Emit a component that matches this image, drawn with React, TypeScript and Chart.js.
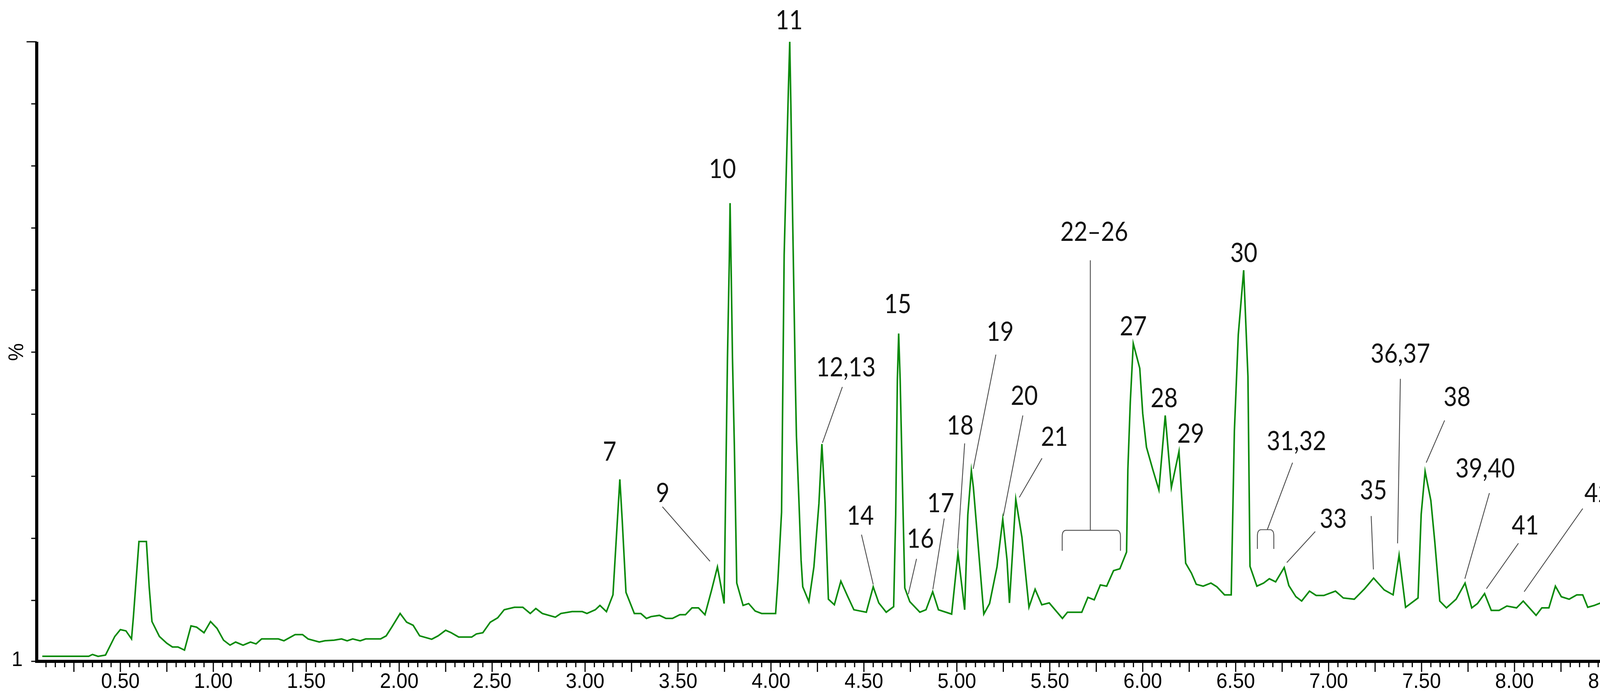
// ChromatogramChart.tsx
import React, { useEffect, useRef } from 'react';
import { Chart, registerables } from 'chart.js';

Chart.register(...registerables);

// retention time (min)
const times: number[] = [
  0.08, 0.33, 0.35, 0.38, 0.42, 0.47, 0.5, 0.53, 0.56, 0.57, 0.6, 0.64, 0.655, 0.67, 0.71, 0.75, 0.78, 0.81, 0.845,
  0.88, 0.91, 0.95, 0.985, 1.02, 1.055, 1.09, 1.12, 1.16, 1.2, 1.23, 1.26, 1.35, 1.38, 1.44, 1.48, 1.51, 1.57, 1.6,
  1.65, 1.69, 1.72, 1.75, 1.79, 1.82, 1.9, 1.93, 1.96, 2.005, 2.04, 2.075, 2.11, 2.175, 2.21, 2.25, 2.28, 2.32, 2.39,
  2.415, 2.45, 2.49, 2.53, 2.565, 2.62, 2.665, 2.705, 2.735, 2.77, 2.84, 2.87, 2.93, 2.985, 3.01, 3.055, 3.08, 3.115,
  3.15, 3.165, 3.187, 3.2, 3.22, 3.265, 3.3, 3.33, 3.355, 3.4, 3.435, 3.47, 3.51, 3.54, 3.575, 3.61, 3.645, 3.68,
  3.712, 3.748, 3.766, 3.776, 3.78, 3.785, 3.793, 3.803, 3.816, 3.85, 3.88, 3.915, 3.95, 3.985, 4.025, 4.037, 4.057,
  4.071, 4.086, 4.094, 4.101, 4.107, 4.115, 4.126, 4.131, 4.137, 4.151, 4.162, 4.171, 4.204, 4.231, 4.258, 4.274,
  4.291, 4.309, 4.341, 4.376, 4.412, 4.446, 4.513, 4.55, 4.58, 4.62, 4.66, 4.671, 4.68, 4.687, 4.695, 4.707, 4.72,
  4.747, 4.801, 4.834, 4.87, 4.901, 4.972, 5.006, 5.042, 5.059, 5.078, 5.089, 5.145, 5.176, 5.216, 5.247, 5.27,
  5.283, 5.317, 5.35, 5.388, 5.421, 5.457, 5.497, 5.568, 5.595, 5.672, 5.705, 5.739, 5.772, 5.806, 5.843, 5.877,
  5.913, 5.92, 5.933, 5.949, 5.984, 6.0, 6.02, 6.054, 6.087, 6.121, 6.154, 6.195, 6.231, 6.262, 6.288, 6.325, 6.367,
  6.399, 6.44, 6.476, 6.493, 6.514, 6.543, 6.566, 6.577, 6.614, 6.65, 6.681, 6.715, 6.761, 6.786, 6.824, 6.855,
  6.897, 6.933, 6.974, 7.037, 7.079, 7.138, 7.194, 7.242, 7.299, 7.347, 7.379, 7.414, 7.481, 7.498, 7.519, 7.55,
  7.571, 7.598, 7.634, 7.686, 7.734, 7.77, 7.801, 7.839, 7.875, 7.917, 7.959, 8.011, 8.047, 8.116, 8.147, 8.185,
  8.22, 8.252, 8.294, 8.335, 8.367, 8.394, 8.43, 8.472, 8.503, 8.541, 8.608, 8.671, 8.708, 8.744, 8.786, 8.838,
  8.89, 8.917, 8.953, 8.995,
];

// relative intensity (%)
const intensity: number[] = [
  1.0, 1.0, 1.3, 1.0, 1.2, 4.2, 5.3, 5.1, 3.8, 7.3, 19.5, 19.5, 12.2, 6.6, 4.2, 3.1, 2.5, 2.5, 2.0,
  5.9, 5.7, 4.8, 6.6, 5.5, 3.6, 2.8, 3.3, 2.8, 3.3, 3.0, 3.8, 3.8, 3.5, 4.5, 4.5, 3.8, 3.3, 3.5,
  3.6, 3.8, 3.5, 3.8, 3.5, 3.8, 3.8, 4.3, 5.7, 7.9, 6.5, 6.0, 4.3, 3.75, 4.3, 5.2, 4.8, 4.1, 4.1,
  4.6, 4.8, 6.5, 7.2, 8.5, 8.9, 8.9, 7.9, 8.7, 7.9, 7.3, 7.9, 8.2, 8.2, 7.9, 8.5, 9.2, 8.2,
  10.9, 18.5, 29.5, 22.8, 11.3, 7.9, 7.9, 7.1, 7.4, 7.6, 7.1, 7.1, 7.7, 7.7, 8.8, 8.8, 7.7, 11.6,
  15.4, 9.5, 49, 65, 74, 65, 49, 35, 12.8, 9.2, 9.5, 8.3, 7.9, 7.9, 7.9, 13.1, 24.2,
  65.7, 83.4, 92.6, 100, 90, 74.5, 54.7, 45.6, 36.5, 25.6, 16.5, 12.2, 9.8, 15.4, 25.6, 35.2,
  25.6, 10.2, 9.3, 13.1, 10.7, 8.5, 8.1, 12.2, 9.6, 8.1, 9.0, 23.8, 45.6, 53.0, 45.6, 29.2, 12.0,
  9.8, 8.1, 8.5, 11.4, 8.5, 7.8, 17.6, 8.5, 23.8, 30.9, 28.2, 7.8, 9.5, 15.4, 23.1, 16.5,
  9.6, 26.3, 20.2, 8.9, 11.8, 9.3, 9.6, 7.1, 8.1, 8.1, 10.5, 10.1, 12.5, 12.3, 14.8, 15.1,
  17.8, 31.1, 41.9, 51.4, 47.4, 40.1, 34.7, 31.1, 27.8, 39.8, 28.2, 34.0, 16.0, 14.4, 12.6, 12.3, 12.8,
  12.2, 10.9, 10.9, 37.3, 52.8, 63.2, 46.1, 15.5, 12.3, 12.8, 13.5, 13.0, 15.3, 12.4, 10.6, 9.9,
  11.5, 10.8, 10.8, 11.5, 10.4, 10.2, 11.9, 13.6, 11.7, 10.9, 17.3, 8.9, 10.4, 23.9, 30.8, 26.1,
  19.5, 9.9, 8.8, 10.2, 12.8, 8.8, 9.5, 11.1, 8.4, 8.4, 9.1, 8.8, 9.9, 7.6, 8.8, 8.8,
  12.3, 10.6, 10.2, 10.9, 10.9, 8.9, 9.2, 9.7, 8.8, 9.5, 7.9, 9.2, 7.6, 8.2, 8.2, 7.9,
  8.8, 8.5, 7.4, 7.4,
];

// x tick labels every 0.5 min
const tickLabels: string[] = ['0.50', '1.00', '1.50', '2.00', '2.50', '3.00', '3.50', '4.00', '4.50', '5.00',
  '5.50', '6.00', '6.50', '7.00', '7.50', '8.00', '8.50', '9.00'];

// compound numbers on the peaks
const peakNames: string[] = ['7', '9', '10', '11', '12,13', '14', '15', '16', '17', '18', '19', '20', '21',
  '22–26', '27', '28', '29', '30', '31,32', '33', '35', '36,37', '38', '39,40', '41', '42'];

// where each name sits and where its leader line runs (time, %)
const labelPlacement: { at: [number, number]; line?: [number, number, number, number] }[] = [
  { at: [3.132, 33.9] },
  { at: [3.418, 27.2], line: [3.416, 25.1, 3.672, 16.3] },
  { at: [3.739, 79.4] },
  { at: [4.098, 103.4] },
  { at: [4.403, 47.5], line: [4.384, 44.4, 4.277, 35.4] },
  { at: [4.481, 23.6], line: [4.487, 20.6, 4.55, 12.6] },
  { at: [4.682, 57.7] },
  { at: [4.804, 19.9], line: [4.783, 16.7, 4.739, 11.0] },
  { at: [4.913, 25.6], line: [4.932, 23.2, 4.871, 11.8] },
  { at: [5.018, 38.1], line: [5.042, 35.3, 5.004, 18.4] },
  { at: [5.233, 53.2], line: [5.21, 49.6, 5.088, 31.2] },
  { at: [5.363, 42.9], line: [5.355, 39.8, 5.25, 23.6] },
  { at: [5.525, 36.3], line: [5.458, 32.9, 5.336, 26.6] },
  { at: [5.739, 69.3], line: [5.718, 64.8, 5.718, 21.3] },
  { at: [5.949, 54.1] },
  { at: [6.115, 42.5] },
  { at: [6.258, 36.8] },
  { at: [6.544, 65.9] },
  { at: [6.827, 35.6], line: [6.806, 32.2, 6.67, 21.4] },
  { at: [7.025, 23.1], line: [6.928, 21.1, 6.775, 16.1] },
  { at: [7.241, 27.7], line: [7.229, 23.6, 7.241, 15.0] },
  { at: [7.386, 49.7], line: [7.386, 45.7, 7.371, 19.2] },
  { at: [7.691, 42.7], line: [7.624, 39.0, 7.525, 32.2] },
  { at: [7.842, 31.2], line: [7.865, 27.3, 7.733, 13.5] },
  { at: [8.058, 22.0], line: [8.021, 19.2, 7.849, 11.9] },
  { at: [8.449, 27.2], line: [8.367, 24.8, 8.052, 11.4] },
];

// brackets grouping co-eluting peaks: [from, to, top %, bottom %]
const brackets: [number, number, number, number][] = [
  [5.571, 5.876, 21.3, 18.0],
  [6.621, 6.701, 21.4, 18.3],
];

const AXIS_FONT = '53px "Liberation Sans", Arial, sans-serif';
const LABEL_FONT = '68px Lato, "Open Sans", sans-serif';

// draw text squeezed horizontally by sx
const drawText = (ctx: CanvasRenderingContext2D, text: string, x: number, y: number, sx: number) => {
  ctx.save();
  ctx.translate(x, y);
  ctx.scale(sx, 1);
  ctx.fillText(text, 0, 0);
  ctx.restore();
};

const decorations = {
  id: 'decorations',
  afterDatasetsDraw(chart: Chart) {
    const ctx = chart.ctx;
    const xs = chart.scales.x;
    const ys = chart.scales.y;
    const left = xs.getPixelForValue(0.05);
    const right = xs.getPixelForValue(9);
    const top = ys.getPixelForValue(100);
    const zero = ys.getPixelForValue(0);
    const axisY = zero - 3;

    ctx.save();
    ctx.fillStyle = '#000';
    ctx.strokeStyle = '#000';

    // axis lines
    ctx.lineWidth = 8;
    ctx.beginPath();
    ctx.moveTo(left, top);
    ctx.lineTo(left, axisY);
    ctx.lineTo(right, axisY);
    ctx.stroke();

    // y ticks every 10 %
    ctx.lineWidth = 3;
    for (let v = 0; v <= 100; v += 10) {
      const py = v === 0 ? axisY : ys.getPixelForValue(v);
      ctx.beginPath();
      ctx.moveTo(left - (v === 100 ? 26 : 14), py);
      ctx.lineTo(left, py);
      ctx.stroke();
    }

    // x ticks every 0.05, longer every 0.25
    for (let k = 2; k <= 180; k++) {
      const px = xs.getPixelForValue(k * 0.05);
      ctx.beginPath();
      ctx.moveTo(px, axisY + 3);
      ctx.lineTo(px, axisY + (k % 5 === 0 ? 27 : 15));
      ctx.stroke();
    }

    ctx.font = AXIS_FONT;
    ctx.textAlign = 'center';
    ctx.textBaseline = 'middle';
    tickLabels.forEach((label) => {
      drawText(ctx, label, xs.getPixelForValue(parseFloat(label)), zero + 50, 0.96);
    });

    ctx.textAlign = 'left';
    drawText(ctx, 'Time', right + 25, zero - 9, 0.94);
    ctx.textAlign = 'right';
    drawText(ctx, '1', left - 36, zero - 6, 0.96);

    ctx.save();
    ctx.translate(left - 50, ys.getPixelForValue(50));
    ctx.rotate(-Math.PI / 2);
    ctx.textAlign = 'center';
    drawText(ctx, '%', 0, 0, 0.96);
    ctx.restore();

    // peak annotations
    ctx.strokeStyle = '#4a4a4a';
    ctx.lineWidth = 2.2;
    labelPlacement.forEach((p) => {
      if (!p.line) return;
      const [t1, v1, t2, v2] = p.line;
      ctx.beginPath();
      ctx.moveTo(xs.getPixelForValue(t1), ys.getPixelForValue(v1));
      ctx.lineTo(xs.getPixelForValue(t2), ys.getPixelForValue(v2));
      ctx.stroke();
    });
    brackets.forEach(([t1, t2, vTop, vBottom]) => {
      const x1 = xs.getPixelForValue(t1);
      const x2 = xs.getPixelForValue(t2);
      const yt = ys.getPixelForValue(vTop);
      const yb = ys.getPixelForValue(vBottom);
      const r = 8;
      ctx.beginPath();
      ctx.moveTo(x1 - 2, yb);
      ctx.lineTo(x1 - 2, yt + r * 2);
      ctx.quadraticCurveTo(x1 - 2, yt, x1 + r, yt);
      ctx.lineTo(x2 - r, yt);
      ctx.quadraticCurveTo(x2 + 2, yt, x2 + 2, yt + r * 2);
      ctx.lineTo(x2 + 2, yb);
      ctx.stroke();
    });

    ctx.fillStyle = '#111';
    ctx.font = LABEL_FONT;
    ctx.textAlign = 'center';
    ctx.textBaseline = 'middle';
    labelPlacement.forEach((p, i) => {
      drawText(ctx, peakNames[i], xs.getPixelForValue(p.at[0]), ys.getPixelForValue(p.at[1]), 0.88);
    });
    ctx.restore();
  },
};

const ChromatogramChart: React.FC = () => {
  const canvasRef = useRef<HTMLCanvasElement>(null);

  useEffect(() => {
    document.body.style.margin = '0';
    const ctx = canvasRef.current?.getContext('2d');
    if (!ctx) return;

    const chart = new Chart(ctx, {
      type: 'line',
      data: {
        datasets: [
          {
            label: 'TIC',
            data: times.map((t, i) => ({ x: t, y: intensity[i] })),
            borderColor: '#0a8a0a',
            borderWidth: 4,
            pointRadius: 0,
            tension: 0,
            fill: false,
          },
        ],
      },
      options: {
        responsive: false,
        animation: false,
        devicePixelRatio: 1,
        layout: { padding: { left: 94, right: 160, top: 107, bottom: 96 } },
        scales: {
          x: { type: 'linear', min: 0.05, max: 9, display: false },
          y: { min: 0, max: 100, display: false },
        },
        plugins: {
          legend: { display: false },
          tooltip: { enabled: false },
        },
      },
      plugins: [decorations],
    });

    return () => {
      chart.destroy();
    };
  }, []);

  return (
    <div style={{ width: 4513, height: 1793, background: '#fff', overflow: 'hidden' }}>
      <canvas ref={canvasRef} width={4513} height={1793} style={{ display: 'block' }}></canvas>
    </div>
  );
};

export default ChromatogramChart;
